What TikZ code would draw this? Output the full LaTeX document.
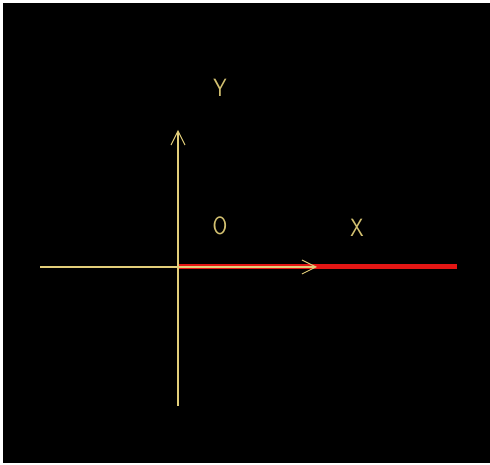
\documentclass[tikz,border=0pt]{standalone}
\usetikzlibrary{arrows.meta}
\definecolor{axisyel}{RGB}{226,206,122}
\definecolor{labyel}{RGB}{210,192,112}
\definecolor{redline}{RGB}{228,22,20}
\begin{document}
\begin{tikzpicture}[x=1pt,y=1pt,
  axis/.style={draw=axisyel,line width=1.1pt},
  vtip/.style={-{Straight Barb[length=14pt,width=14pt,line width=1pt]}},
  lab/.style={text=labyel,font=\sffamily\fontsize{25}{25}\selectfont,inner sep=0pt,xscale=0.85}]
\useasboundingbox (0,0) rectangle (490,465);
\fill[white] (0,0) rectangle (490,465);
\fill[black] (3,2) rectangle (490,462);
\coordinate (origin) at (178,198);
\coordinate (ytop) at (178,335);
\coordinate (ybot) at (178,59);
\coordinate (xleft) at (40,198);
\coordinate (xtip) at (317,198);
\coordinate (redend) at (457,198);
\draw[draw=redline,line width=5pt] (origin) -- (redend);
\draw[axis,vtip] (ybot) -- (ytop);
\draw[axis,vtip] (xleft) -- (xtip);
\node[lab] (ylab) at (220,377) {Y};
\node[lab] (olab) at (220,239) {O};
\node[lab] (xlab) at (357,237) {X};
\end{tikzpicture}
\end{document}
